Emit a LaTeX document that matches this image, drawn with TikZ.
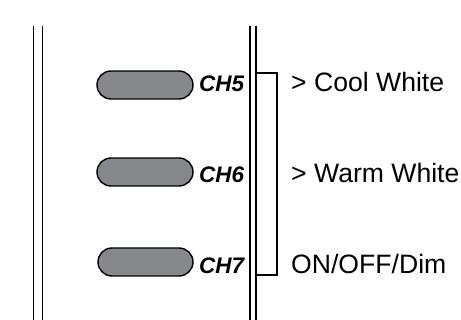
\documentclass[tikz,border=0pt]{standalone}
\usepackage{fontspec}
\setmainfont{Liberation Sans}
\definecolor{pillgray}{RGB}{135,136,140}
\begin{document}
\begin{tikzpicture}[x=1pt,y=-1pt,
  rail/.style={line width=1.5pt},
  pill/.style={draw, line width=1.4pt, fill=pillgray, rounded corners=14pt},
  chlabel/.style={anchor=base west, inner sep=0pt, font=\fontsize{22.5}{26}\selectfont\bfseries\itshape},
  desc/.style={anchor=base west, inner sep=0pt, font=\fontsize{26.6}{30}\selectfont}]
\useasboundingbox (0,0) rectangle (461,320);
% rails
\coordinate (l1t) at (33.7,26); \coordinate (l1b) at (33.7,320);
\coordinate (l2t) at (42.3,26); \coordinate (l2b) at (42.3,320);
\coordinate (r1t) at (250,26); \coordinate (r1b) at (250,320);
\coordinate (r2t) at (256,26); \coordinate (r2b) at (256,320);
\draw[rail] (l1t) -- (l1b);
\draw[rail] (l2t) -- (l2b);
\draw[rail] (r1t) -- (r1b);
\draw[rail] (r2t) -- (r2b);
% pills
\draw[pill] (97,71) rectangle (193,99);
\draw[pill] (97,158) rectangle (193,186);
\draw[pill] (98,248) rectangle (193,276);
% labels
\node[chlabel] (ch5) at (199,91.5) {CH5};
\node[chlabel] (ch6) at (199,182.3) {CH6};
\node[chlabel] (ch7) at (199,273.3) {CH7};
% bracket
\coordinate (bt) at (256,73);
\coordinate (bb) at (256,275);
\draw[line width=1.5pt] (bt) -- (277,73) -- (277,275) -- (bb);
% descriptions
\node[desc] (cool) at (291,91.7) {> Cool White};
\node[desc] (warm) at (291,183) {> Warm White};
\node[desc] (onoff) at (291,274) {ON/OFF/Dim};
\end{tikzpicture}
\end{document}
